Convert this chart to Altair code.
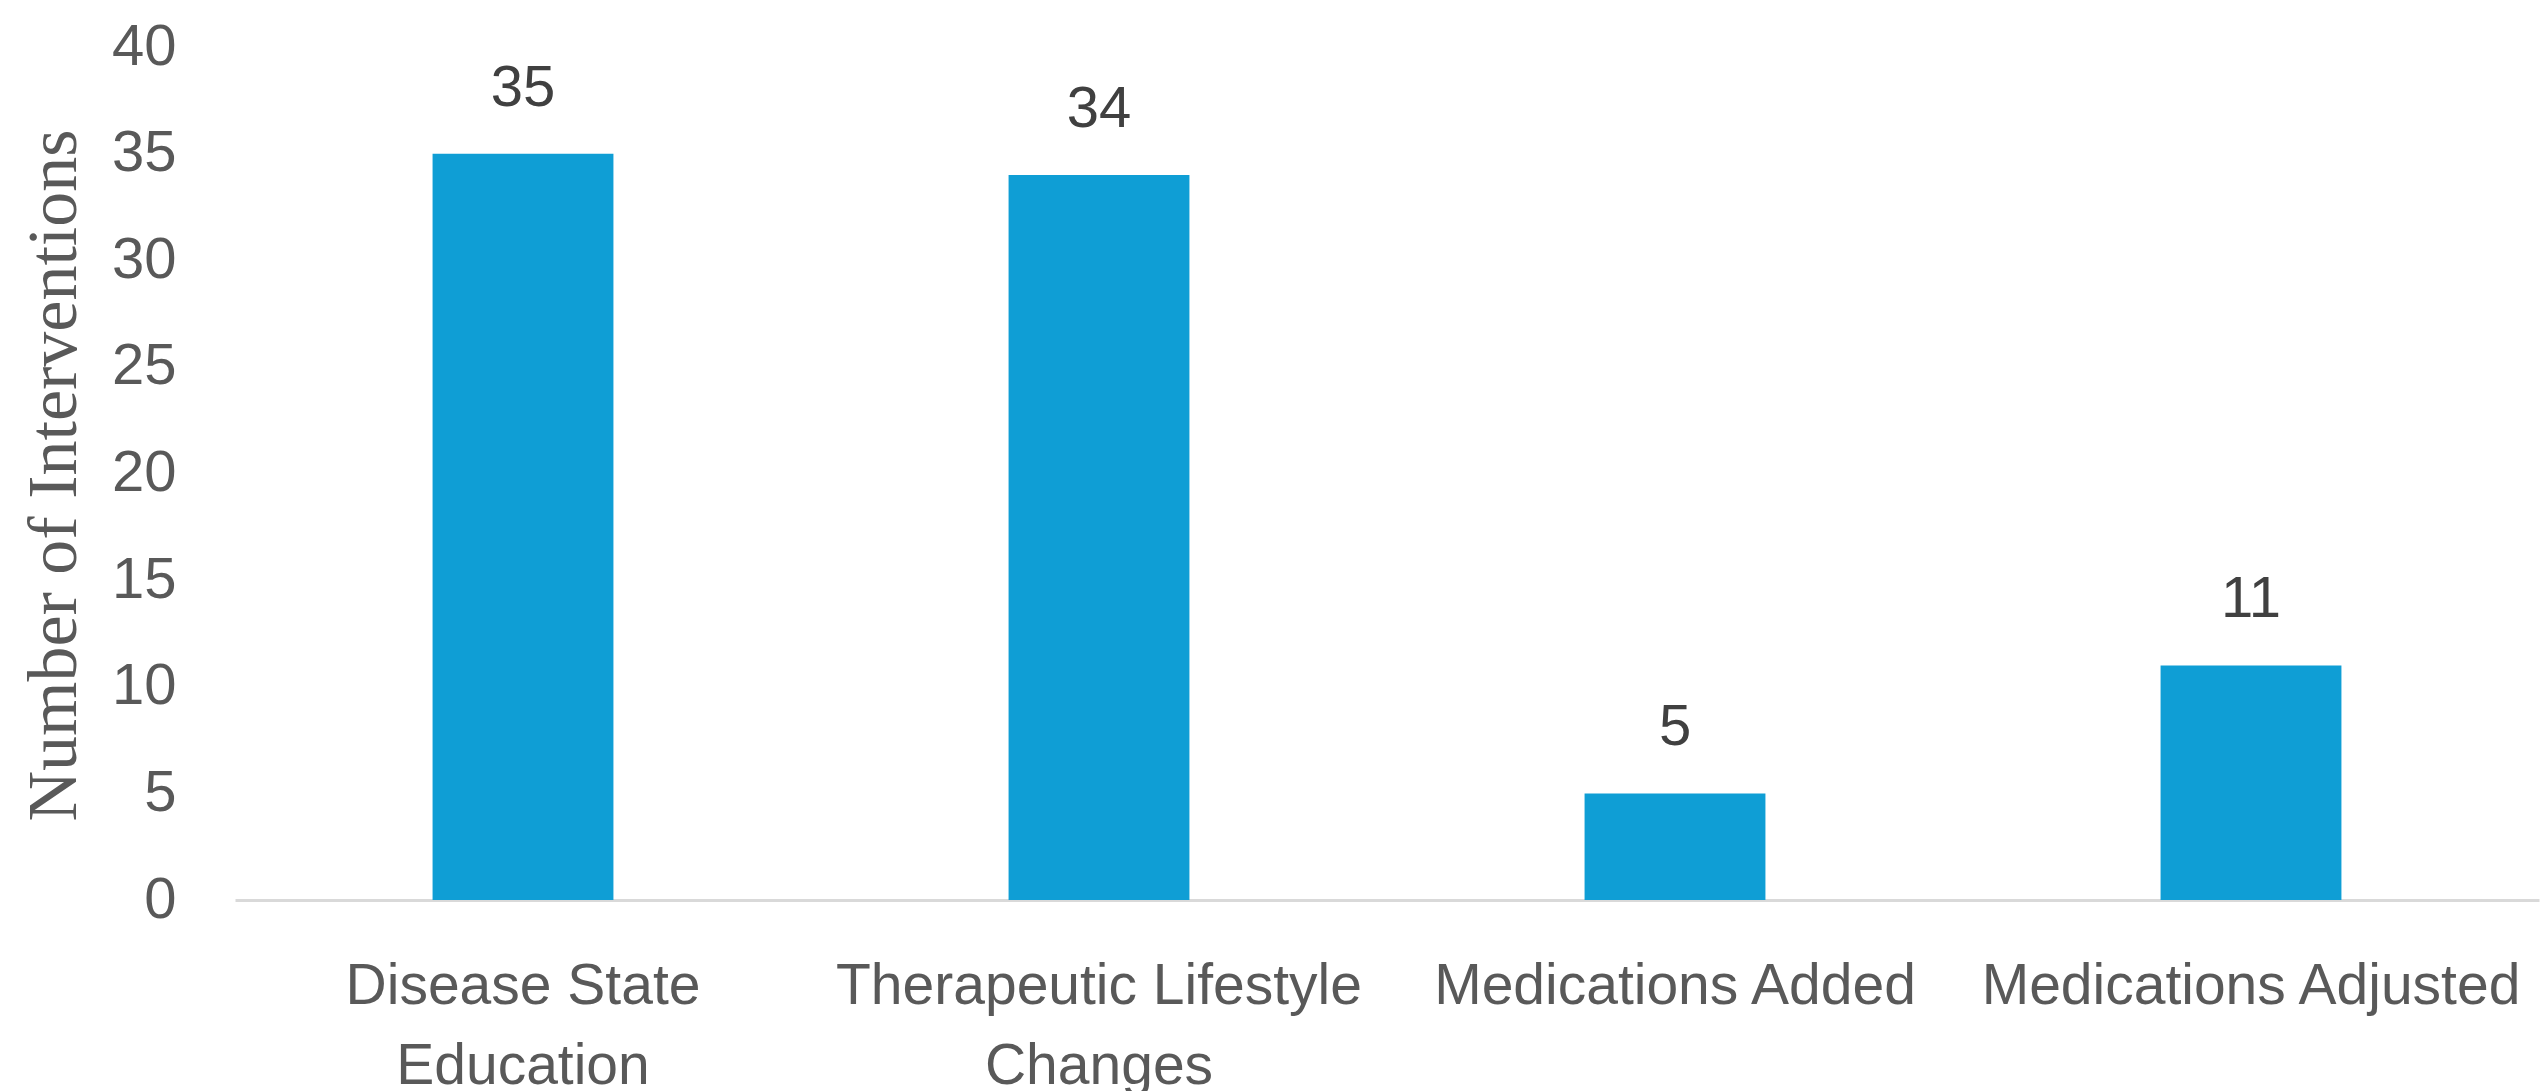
import altair as alt
import pandas as pd

# Intervention categories, counts, and the wrapped axis label lines
categories = [
    "Disease State Education",
    "Therapeutic Lifestyle Changes",
    "Medications Added",
    "Medications Adjusted",
]
label_lines = [
    ["Disease State", "Education"],
    ["Therapeutic Lifestyle", "Changes"],
    ["Medications Added"],
    ["Medications Adjusted"],
]
counts = [35, 34, 5, 11]
y_ticks = [0, 5, 10, 15, 20, 25, 30, 35, 40]

df = pd.DataFrame({"category": categories, "count": counts})

# Build a label expression that splits each category into its display lines
expr = "datum.label"
for name, lines in reversed(list(zip(categories, label_lines))):
    arr = "[" + ", ".join("'" + s + "'" for s in lines) + "]"
    expr = f"datum.label == '{name}' ? {arr} : ({expr})"

BAR_COLOR = "#0F9ED5"
AXIS_TEXT = "#595959"

x_enc = alt.X(
    "category:N",
    sort=categories,
    scale=alt.Scale(paddingInner=0.686, paddingOuter=0.343),
    axis=alt.Axis(
        title=None,
        labelAngle=0,
        labelExpr=expr,
        labelFont="Liberation Sans",
        labelFontSize=57,
        labelColor=AXIS_TEXT,
        labelPadding=58,
        labelLineHeight=80,
        labelLimit=2000,
        ticks=False,
        tickSize=0,
        domain=True,
        domainColor="#d9d9d9",
        domainWidth=3,
        grid=False,
    ),
)

y_enc = alt.Y(
    "count:Q",
    scale=alt.Scale(domain=[0, 40], nice=False),
    axis=alt.Axis(
        values=y_ticks,
        title="Number of Interventions",
        titleFont="Liberation Serif",
        titleFontSize=70,
        titleFontWeight="normal",
        titleColor=AXIS_TEXT,
        titleAngle=270,
        titleAlign="center",
        titleBaseline="alphabetic",
        titleX=-160,
        titleY=428,
        labelFont="Liberation Sans",
        labelFontSize=58,
        labelColor=AXIS_TEXT,
        labelPadding=59,
        ticks=False,
        tickSize=0,
        domain=False,
        grid=False,
    ),
)

bars = alt.Chart(df).mark_bar(color=BAR_COLOR).encode(x=x_enc, y=y_enc)

labels = alt.Chart(df).mark_text(
    baseline="alphabetic",
    dy=-48,
    font="Liberation Sans",
    fontSize=58,
    color="#404040",
).encode(
    x=alt.X("category:N", sort=categories),
    y=alt.Y("count:Q"),
    text=alt.Text("count:Q"),
)

chart = (
    alt.layer(bars, labels)
    .properties(
        width=2304,
        height=853,
        autosize=alt.AutoSizeParams(type="none"),
        padding={"left": 235, "top": 47, "right": 4, "bottom": 191},
        background="white",
    )
    .configure_view(stroke=None)
)

chart.save("out.html", embed_options={"renderer": "svg", "actions": False})
